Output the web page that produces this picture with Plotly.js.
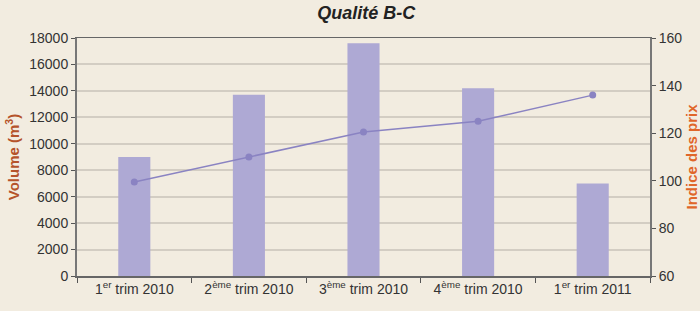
<!DOCTYPE html>
<html>
<head>
<meta charset="utf-8">
<script src="https://cdn.plot.ly/plotly-3.0.1.min.js"></script>
<style>html,body{margin:0;padding:0;background:#f2ece0;}</style>
</head>
<body>
<div id="chart" style="width:700px;height:311px;"></div>
<script>
const categories = ["1<sup>er</sup> trim 2010", "2<sup>ème</sup> trim 2010", "3<sup>ème</sup> trim 2010", "4<sup>ème</sup> trim 2010", "1<sup>er</sup> trim 2011"];
const volume = [9000, 13700, 17600, 14200, 7000];
const indicePrix = [99.5, 110, 120.5, 125, 136];

const font = "'Liberation Sans', Arial, sans-serif";

const traces = [
  {
    type: 'bar', x: categories, y: volume, width: 0.28,
    marker: {color: '#aea9d4'}, yaxis: 'y', hoverinfo: 'y'
  },
  {
    type: 'scatter', mode: 'lines+markers', x: categories, y: indicePrix,
    line: {color: '#8a83c2', width: 1.5}, marker: {color: '#8a83c2', size: 7},
    yaxis: 'y2'
  }
];

const layout = {
  width: 700, height: 311,
  paper_bgcolor: '#f2ece0', plot_bgcolor: '#f2ece0',
  margin: {l: 77, r: 50, t: 38, b: 35},
  showlegend: false,
  font: {family: font, size: 13, color: '#333'},
  title: {
    text: '<b><i>Qualité B-C</i></b>', x: 0.505, xref: 'paper', y: 0.96, yanchor: 'middle',
    font: {family: font, size: 18, color: '#222'}
  },
  xaxis: {
    type: 'category', tickson: 'boundaries', ticks: 'outside', ticklen: 5, tickwidth: 1, tickcolor: '#555',
    showline: true, linecolor: '#666', linewidth: 1.5, mirror: true,
    showgrid: false, tickfont: {family: font, size: 14, color: '#333'}
  },
  yaxis: {
    range: [0, 18000], dtick: 2000, tickformat: 'd', ticks: 'outside', ticklen: 4, tickcolor: '#555',
    showline: true, linecolor: '#777', linewidth: 2,
    gridcolor: '#d3cdc3', gridwidth: 2, zeroline: false,
    tickfont: {family: font, size: 14, color: '#333'},
    title: {text: '<b>Volume (m<sup>3</sup>)</b>', standoff: 6,
      font: {family: font, size: 15, color: '#b5532b'}}
  },
  yaxis2: {
    range: [60, 160], dtick: 20, overlaying: 'y', side: 'right',
    ticks: 'outside', ticklen: 4, tickcolor: '#555',
    showline: true, linecolor: '#777', linewidth: 2, showgrid: false, zeroline: false,
    tickfont: {family: font, size: 14, color: '#333'},
    title: {text: '<b>Indice des prix</b>', standoff: 8,
      font: {family: font, size: 15, color: '#e0662a'}}
  }
};

Plotly.newPlot('chart', traces, layout, {displayModeBar: false, staticPlot: true});
</script>
</body>
</html>
